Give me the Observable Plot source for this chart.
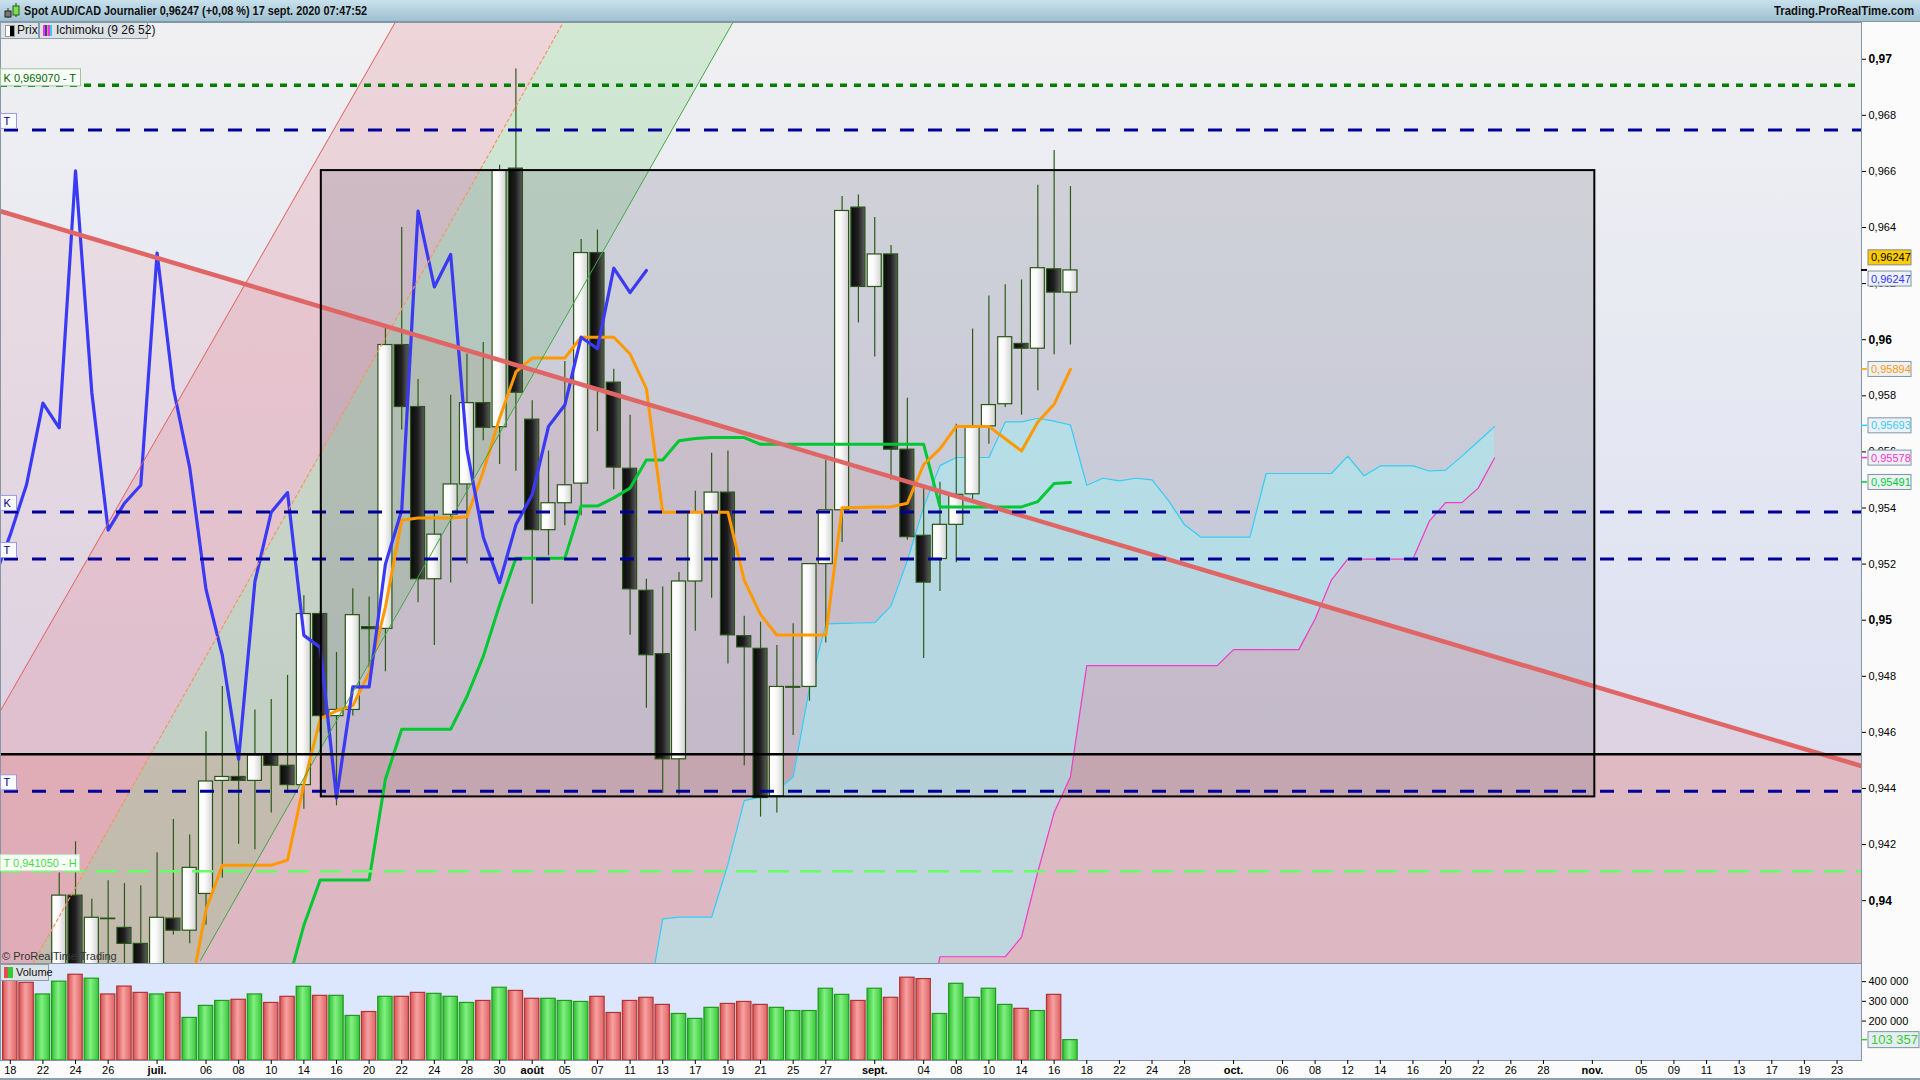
<!DOCTYPE html>
<html lang="fr">
<head>
<meta charset="utf-8">
<title>Spot AUD/CAD Journalier</title>
<script src="https://cdn.jsdelivr.net/npm/d3@7"></script>
<script src="https://cdn.jsdelivr.net/npm/@observablehq/plot@0.6"></script>
<style>
  html, body { margin: 0; padding: 0; }
  body { width: 1920px; height: 1080px; position: relative; overflow: hidden; background: #fbfbfb;
         font-family: "Liberation Sans", Arial, sans-serif; }
  #header { position: absolute; left: 0; top: 0; width: 1920px; height: 21px;
            background: linear-gradient(#c8e1ed, #a0c0d0); border-bottom: 1px solid #7d97a7; }
  #header .txt { position: absolute; top: 3px; font-weight: bold; font-size: 13px; white-space: nowrap;
                 transform-origin: left center; color: #111; }
  #icon { position: absolute; left: 2px; top: 2px; }
  #price { position: absolute; left: 0; top: 22px; }
  #volume { position: absolute; left: 0; top: 963px; }
  .leg { position: absolute; height: 15px; background: #dde2e7; border: 1px solid #8c9dab;
         font-size: 12px; line-height: 15px; white-space: nowrap; color: #111; }
  .leg span.ic { position: absolute; top: 2px; width: 9px; height: 11px; }
  #bottomline { position: absolute; left: 0; top: 1078px; width: 1920px; height: 2px; background: #8c9dab; }
</style>
</head>
<body>
<svg width="0" height="0" style="position:absolute">
  <defs>
    <linearGradient id="bgGrad" x1="0" y1="0" x2="0" y2="1">
      <stop offset="0" stop-color="#f0f0f2"/><stop offset="1" stop-color="#d6dcf2"/>
    </linearGradient>
    <linearGradient id="candleW" x1="0" y1="0" x2="1" y2="0">
      <stop offset="0" stop-color="#ffffff"/><stop offset="0.45" stop-color="#fbfbfb"/><stop offset="1" stop-color="#d2d2d2"/>
    </linearGradient>
    <linearGradient id="candleB" x1="0" y1="0" x2="1" y2="0">
      <stop offset="0" stop-color="#0a0a0a"/><stop offset="0.5" stop-color="#1e1e1e"/><stop offset="1" stop-color="#5c5c5c"/>
    </linearGradient>
    <linearGradient id="volR" x1="0" y1="0" x2="1" y2="0">
      <stop offset="0" stop-color="#d65050"/><stop offset="0.45" stop-color="#f7a2a2"/><stop offset="1" stop-color="#de6262"/>
    </linearGradient>
    <linearGradient id="volG" x1="0" y1="0" x2="1" y2="0">
      <stop offset="0" stop-color="#30bc30"/><stop offset="0.45" stop-color="#82f082"/><stop offset="1" stop-color="#3ac63a"/>
    </linearGradient>
  </defs>
</svg>

<div id="header">
  <svg id="icon" width="20" height="17">
    <line x1="6" y1="6" x2="6" y2="16" stroke="#333"/>
    <rect x="3" y="9" width="6" height="6" fill="#777" stroke="#222"/>
    <line x1="14" y1="1" x2="14" y2="15" stroke="#333"/>
    <rect x="11" y="4" width="6" height="9" fill="#7ce04a" stroke="#2a5a1a"/>
  </svg>
  <span class="txt" id="title" style="left:24px">Spot AUD/CAD Journalier 0,96247 (+0,08 %) 17 sept. 2020 07:47:52</span>
  <span class="txt" id="site" style="left:1774px">Trading.ProRealTime.com</span>
</div>

<div id="price"></div>
<div id="volume"></div>

<div class="leg" style="left:0;top:22px;width:37px">
  <span class="ic" style="left:4px;background:linear-gradient(90deg,#fff 50%,#000 50%);border:1px solid #999;width:8px;height:10px"></span>
  <span style="position:absolute;left:16px">Prix</span>
</div>
<div class="leg" style="left:39px;top:22px;width:107px">
  <span class="ic" style="left:3px;background:linear-gradient(90deg,#ff33cc 0 20%,#3333ff 20% 40%,#ff9900 40% 60%,#ff33cc 60% 80%,#33ccff 80%)"></span>
  <span style="position:absolute;left:16px">Ichimoku (9 26 52)</span>
</div>
<div class="leg" style="left:0;top:964px;width:47px;font-size:11px">
  <span class="ic" style="left:3px;background:linear-gradient(90deg,#e05050 50%,#33cc33 50%)"></span>
  <span style="position:absolute;left:15px">Volume</span>
</div>
<div id="bottomline"></div>

<script>
// séances : index 0 = 18 juin 2020, 65 = 17 sept. 2020
const opens = [0.9362, 0.9355, 0.9346, 0.9362, 0.94018, 0.9368, 0.93936, 0.93903, 0.93846, 0.9370,
  0.93936, 0.93893, 0.94024, 0.94427, 0.94441, 0.94427, 0.94518, 0.94481, 0.94412, 0.95022,
  0.94658, 0.9468, 0.94975, 0.94969, 0.95981, 0.9576, 0.95146, 0.95376, 0.95484, 0.95774,
  0.95688, 0.9661, 0.95715, 0.95321, 0.95417, 0.95487, 0.96309, 0.95847, 0.9554, 0.95105,
  0.94879, 0.94504, 0.95138, 0.95385, 0.95455, 0.94943, 0.94898, 0.94372, 0.94759, 0.94762,
  0.952, 0.95392, 0.96471, 0.96188, 0.96304, 0.95608, 0.95301, 0.95218, 0.9534, 0.95449,
  0.95691, 0.9577, 0.95985, 0.95968, 0.96251, 0.96168]
const highs = [0.9372, 0.9368, 0.9370, 0.94099, 0.9421, 0.94005, 0.94071, 0.94061, 0.94053, 0.94171,
  0.94289, 0.94234, 0.94602, 0.94764, 0.94499, 0.9468, 0.94717, 0.94803, 0.95087, 0.9503,
  0.94885, 0.95112, 0.95083, 0.96041, 0.964, 0.95858, 0.9538, 0.95802, 0.95949, 0.9599,
  0.96622, 0.96965, 0.95782, 0.95603, 0.95922, 0.96357, 0.96391, 0.95895, 0.95731, 0.95146,
  0.95118, 0.9517, 0.9546, 0.95595, 0.95603, 0.95014, 0.94993, 0.9491, 0.94987, 0.952,
  0.95571, 0.96511, 0.96516, 0.96436, 0.96336, 0.95791, 0.95476, 0.95492, 0.95699, 0.96038,
  0.96156, 0.96196, 0.96213, 0.96551, 0.96675, 0.96546]
const lows = [0.9345, 0.9338, 0.9340, 0.9355, 0.9360, 0.9362, 0.9368, 0.9374, 0.9364, 0.9366,
  0.93878, 0.93846, 0.93912, 0.9408, 0.94201, 0.94182, 0.94313, 0.94382, 0.94326, 0.9460,
  0.94338, 0.94658, 0.9483, 0.94816, 0.95678, 0.95062, 0.9491, 0.95133, 0.952, 0.9564,
  0.95555, 0.95531, 0.95057, 0.9523, 0.95337, 0.95372, 0.95672, 0.95465, 0.94946, 0.94686,
  0.94382, 0.94377, 0.94961, 0.95078, 0.94844, 0.94481, 0.94298, 0.94313, 0.94589, 0.94711,
  0.94919, 0.95277, 0.9606, 0.95938, 0.955, 0.95285, 0.94863, 0.95102, 0.95205, 0.9542,
  0.95627, 0.95758, 0.95731, 0.95818, 0.95946, 0.95981]
const closes = [0.9355, 0.9346, 0.9362, 0.94018, 0.9368, 0.93939, 0.93934, 0.93846, 0.9370, 0.93939,
  0.93893, 0.94117, 0.94425, 0.94441, 0.94427, 0.94518, 0.94481, 0.94412, 0.95022, 0.94658,
  0.9468, 0.95018, 0.94968, 0.95981, 0.9576, 0.95146, 0.95305, 0.95484, 0.95774, 0.95686,
  0.96602, 0.95811, 0.95321, 0.95417, 0.95481, 0.96309, 0.95826, 0.95544, 0.9511, 0.94875,
  0.94504, 0.95138, 0.95385, 0.95455, 0.94946, 0.94903, 0.94366, 0.94762, 0.94762, 0.952,
  0.95392, 0.96459, 0.96188, 0.96304, 0.95608, 0.95296, 0.95134, 0.9534, 0.95447, 0.95691,
  0.95767, 0.96009, 0.95968, 0.96255, 0.96168, 0.96247]
const volumes = [410000, 394000, 335000, 400000, 435000, 415000, 335000, 375000, 343000, 335000,
  343000, 216000, 277000, 302000, 308000, 335000, 292000, 323000, 374000, 328000,
  328000, 226000, 246000, 323000, 323000, 343000, 338000, 323000, 292000, 302000,
  369000, 353000, 313000, 313000, 302000, 297000, 323000, 241000, 302000, 318000,
  282000, 236000, 211000, 267000, 287000, 297000, 282000, 267000, 251000, 251000,
  364000, 333000, 302000, 364000, 318000, 420000, 413000, 236000, 389000, 318000,
  364000, 282000, 262000, 251000, 333000, 103357]

// Ichimoku (9 26 52)
const tenkanStart = 11
const tenkan = [0.9366, 0.93968, 0.94126, 0.94126, 0.94126, 0.94126, 0.94145, 0.94415, 0.94648, 0.94677,
  0.94695, 0.94812, 0.95046, 0.95356, 0.95364, 0.95364, 0.95364, 0.95369, 0.9553, 0.9572,
  0.95885, 0.95935, 0.95935, 0.95935, 0.96009, 0.96009, 0.96009, 0.95949, 0.95826, 0.95385,
  0.95385, 0.95385, 0.95385, 0.95385, 0.95142, 0.9502, 0.94947, 0.94947, 0.94947, 0.94947,
  0.95401, 0.95402, 0.95404, 0.95404, 0.95417, 0.95555, 0.95611, 0.95691, 0.95691, 0.95691,
  0.95647, 0.95603, 0.95707, 0.9577, 0.95894]
const kijunStart = 17
const kijun = [0.9370, 0.93912, 0.94074, 0.94074, 0.94074, 0.94074, 0.94433, 0.94611, 0.94611, 0.94611,
  0.94611, 0.94728, 0.94871, 0.95054, 0.95221, 0.95221, 0.95221, 0.95221, 0.95407, 0.95407,
  0.95436, 0.95471, 0.95571, 0.95571, 0.9564, 0.95648, 0.95651, 0.95651, 0.95651, 0.95627,
  0.95627, 0.95627, 0.95627, 0.95627, 0.95627, 0.95627, 0.95627, 0.95627, 0.95627, 0.95627,
  0.95404, 0.95404, 0.95404, 0.95404, 0.95404, 0.95404, 0.95423, 0.95487, 0.95491]
const spanStart = 39
const spanA = [0.9360, 0.93935, 0.93941, 0.93941, 0.93941, 0.9413, 0.94357, 0.9437, 0.94393, 0.94441,
  0.94759, 0.94987, 0.94989, 0.9499, 0.94991, 0.95051, 0.95213, 0.95404, 0.95551, 0.9558,
  0.9558, 0.9558, 0.95707, 0.95707, 0.9572, 0.9571, 0.95696, 0.95481, 0.95506, 0.95497,
  0.95506, 0.955, 0.95427, 0.9534, 0.95296, 0.95296, 0.95296, 0.95296, 0.95523, 0.95523,
  0.95523, 0.95523, 0.95523, 0.95585, 0.95515, 0.9555, 0.9555, 0.9555, 0.95532, 0.95535,
  0.95585, 0.95637, 0.9569]
const spanB = [0.935, 0.935, 0.935, 0.935, 0.935, 0.935, 0.935, 0.935, 0.935, 0.935,
  0.935, 0.935, 0.935, 0.935, 0.935, 0.935, 0.935, 0.935, 0.938, 0.938,
  0.938, 0.938, 0.938, 0.9387, 0.94103, 0.94314, 0.94441, 0.94838, 0.94838, 0.94838,
  0.94838, 0.94838, 0.94838, 0.94838, 0.94838, 0.94838, 0.94895, 0.94895, 0.94895, 0.94895,
  0.94895, 0.95004, 0.95143, 0.95218, 0.95218, 0.95218, 0.95218, 0.95218, 0.95353, 0.95419,
  0.95419, 0.95471, 0.95578]

// objets dessinés (index de séance, prix)
const trendX = [-0.6, 113.5], trendY = [0.96458, 0.9448]
const chanHighX = [-0.6, 23.6], chanHighY = [0.94677, 0.97131]
const chanMidX = [-0.6, 33.9], chanMidY = [0.93572, 0.97131]
const chanLowX = [11.66, 44.3], chanLowY = [0.93787, 0.97131]
const boxX = [19.07, 97.15], boxY = [0.9437, 0.96603]
const blueLevels = [0.96748, 0.95386, 0.95218, 0.9439]
const blueTags = ["T", "K", "T", "T"]
const kLevel = 0.96907
const hLevel = 0.94105
const blackLevel = 0.94522

// axes
const xDomain = [-0.6, 113.5]
const yDomain = [0.93776, 0.97131]
const priceTicksBold = [0.94, 0.95, 0.96, 0.97]
const priceTicks = [0.942, 0.944, 0.946, 0.948, 0.952, 0.954, 0.956, 0.958, 0.962, 0.964, 0.966, 0.968]
const volTicks = [200000, 300000, 400000]
const dayTickIdx = [0, 2, 4, 6, 12, 14, 16, 18, 20, 22, 24, 26, 28, 30, 34, 36, 38, 40, 42, 44, 46, 48, 50,
  56, 58, 60, 62, 64, 66, 68, 70, 72, 78, 80, 82, 84, 86, 88, 90, 92, 94, 100, 102, 104, 106, 108, 110, 112]
const dayTickLab = ["18", "22", "24", "26", "06", "08", "10", "14", "16", "20", "22", "24", "28", "30",
  "05", "07", "11", "13", "17", "19", "21", "25", "27", "04", "08", "10", "14", "16", "18", "22", "24", "28",
  "06", "08", "12", "14", "16", "20", "22", "26", "28", "05", "09", "11", "13", "17", "19", "23"]
const monthTickIdx = [9, 32, 53, 75, 97]
const monthTickLab = ["juil.", "août", "sept.", "oct.", "nov."]

const font = "Liberation Sans, Arial, sans-serif"

const candles = opens.map((o, i) => ({i, o, h: highs[i], l: lows[i], c: closes[i]}))
const chikou = closes.slice(25).map((c, k) => ({x: k + 25 - 26, y: c}))
const tenkanPts = tenkan.map((y, k) => ({x: k + tenkanStart, y}))
const kijunPts = kijun.map((y, k) => ({x: k + kijunStart, y}))
const cloud = spanA.map((a, k) => ({x: k + spanStart, a, b: spanB[k]}))
const trend = trendX.map((x, k) => ({x, y: trendY[k]}))
const pinkBand = [0, 1].map(k => ({x1: chanMidX[k], y1: chanMidY[k], x2: chanHighX[k], y2: chanHighY[k]}))
const greenBand = [0, 1].map(k => ({x1: chanMidX[k], y1: chanMidY[k], x2: chanLowX[k], y2: chanLowY[k]}))
const lineOf = (xs, ys) => xs.map((x, k) => ({x, y: ys[k]}))

const priceChart = Plot.plot({
  width: 1920, height: 941,
  marginLeft: 0, marginRight: 59, marginTop: 0, marginBottom: 0,
  x: {domain: xDomain, axis: null},
  y: {domain: yDomain, axis: null},
  style: {background: "transparent", fontFamily: font, fontSize: "11px", color: "#000", overflow: "visible"},
  marks: [
    Plot.frame({fill: "url(#bgGrad)", stroke: null}),
    Plot.areaY(trend, {x: "x", y1: yDomain[0], y2: "y", fill: "#e69aa4", fillOpacity: 0.2, clip: true}),
    Plot.rect([blackLevel], {x1: xDomain[0], x2: xDomain[1], y1: yDomain[0], y2: d => d, fill: "#e19696", fillOpacity: 0.4, clip: true}),
    Plot.area(pinkBand, {x1: "x1", y1: "y1", x2: "x2", y2: "y2", fill: "#e68c96", fillOpacity: 0.27, clip: true}),
    Plot.area(greenBand, {x1: "x1", y1: "y1", x2: "x2", y2: "y2", fill: "#5ac85a", fillOpacity: 0.2, clip: true}),
    Plot.rect([0], {x1: boxX[0], x2: boxX[1], y1: boxY[0], y2: boxY[1], fill: "#3c3c50", fillOpacity: 0.16}),
    Plot.areaY(cloud, {x: "x", y1: "b", y2: "a", fill: "#aaeaf0", fillOpacity: 0.6, clip: true}),
    Plot.line(cloud, {x: "x", y: "a", stroke: "#33ccf5", strokeWidth: 1.2, clip: true}),
    Plot.line(cloud, {x: "x", y: "b", stroke: "#f03cc8", strokeWidth: 1.2, clip: true}),
    Plot.ruleX(candles, {x: "i", y1: "l", y2: "h", stroke: "#2d5a17", strokeWidth: 1.2, clip: true}),
    Plot.rect(candles.filter(d => d.c >= d.o), {x1: d => d.i - 0.43, x2: d => d.i + 0.43, y1: "o", y2: "c",
      fill: "url(#candleW)", stroke: "#2a5418", strokeWidth: 1.2, clip: true}),
    Plot.rect(candles.filter(d => d.c < d.o), {x1: d => d.i - 0.43, x2: d => d.i + 0.43, y1: "o", y2: "c",
      fill: "url(#candleB)", stroke: "#2a5418", strokeWidth: 1.2, clip: true}),
    Plot.line(kijunPts, {x: "x", y: "y", stroke: "#00c832", strokeWidth: 3, clip: true}),
    Plot.line(tenkanPts, {x: "x", y: "y", stroke: "#ff9900", strokeWidth: 3, clip: true}),
    Plot.line(chikou, {x: "x", y: "y", stroke: "#3a3af5", strokeWidth: 3.2, clip: true}),
    Plot.line(lineOf(chanHighX, chanHighY), {x: "x", y: "y", stroke: "#e06464", strokeWidth: 1, clip: true}),
    Plot.line(lineOf(chanMidX, chanMidY), {x: "x", y: "y", stroke: "#ff9060", strokeWidth: 1.2, strokeDasharray: "3,3", clip: true}),
    Plot.line(lineOf(chanLowX, chanLowY), {x: "x", y: "y", stroke: "#3aa83a", strokeWidth: 1, clip: true}),
    Plot.line(trend, {x: "x", y: "y", stroke: "#e06666", strokeWidth: 4.5, clip: true}),
    Plot.ruleY([hLevel], {stroke: "#66ff66", strokeWidth: 2.5, strokeDasharray: "21,11"}),
    Plot.ruleY(blueLevels, {stroke: "#000099", strokeWidth: 3, strokeDasharray: "14,14", strokeDashoffset: -4}),
    Plot.ruleY([kLevel], {stroke: "#008000", strokeWidth: 3.5, strokeDasharray: "7,7"}),
    Plot.ruleY([blackLevel], {stroke: "#000", strokeWidth: 2.5}),
    Plot.rect([0], {x1: boxX[0], x2: boxX[1], y1: boxY[0], y2: boxY[1], fill: "none", stroke: "#000", strokeWidth: 2}),
    Plot.frame({stroke: "#8496a4"}),
    Plot.axisY({ticks: priceTicks, anchor: "right", tickSize: 4, tickPadding: 3, label: null,
      tickFormat: v => v.toFixed(3).replace(".", ","), fontSize: 11}),
    Plot.axisY({ticks: priceTicksBold, anchor: "right", tickSize: 4, tickPadding: 3, label: null,
      tickFormat: v => v.toFixed(2).replace(".", ","), fontSize: 12, fontWeight: "bold"})
  ]
})
d3.select("#price").append(() => priceChart)

const volRows = volumes.map((v, i) => ({i, v, up: closes[i] >= opens[i]}))
const dayLabel = new Map(dayTickIdx.map((d, k) => [d, dayTickLab[k]]))
const monthLabel = new Map(monthTickIdx.map((d, k) => [d, monthTickLab[k]]))

const volChart = Plot.plot({
  width: 1920, height: 115,
  marginLeft: 0, marginRight: 59, marginTop: 0, marginBottom: 18,
  x: {domain: xDomain, axis: null},
  y: {domain: [0, 492000], axis: null},
  style: {background: "transparent", fontFamily: font, fontSize: "11px", color: "#000", overflow: "visible"},
  marks: [
    Plot.frame({fill: "#dce6fc", stroke: null}),
    Plot.rect(volRows.filter(d => d.up), {x1: d => d.i - 0.44, x2: d => d.i + 0.44, y1: d => 0, y2: "v",
      fill: "url(#volG)", stroke: "#1f9a1f", strokeWidth: 1.2, clip: true}),
    Plot.rect(volRows.filter(d => !d.up), {x1: d => d.i - 0.44, x2: d => d.i + 0.44, y1: d => 0, y2: "v",
      fill: "url(#volR)", stroke: "#b03434", strokeWidth: 1.2, clip: true}),
    Plot.frame({stroke: "#8496a4"}),
    Plot.axisY({ticks: volTicks, anchor: "right", tickSize: 4, tickPadding: 3, label: null,
      tickFormat: v => d3.format(",")(v).replace(/,/g, " "), fontSize: 11}),
    Plot.axisX({ticks: dayTickIdx, anchor: "bottom", tickSize: 4, tickPadding: 2, label: null,
      tickFormat: d => dayLabel.get(d), fontSize: 11}),
    Plot.axisX({ticks: monthTickIdx, anchor: "bottom", tickSize: 4, tickPadding: 2, label: null,
      tickFormat: d => monthLabel.get(d), fontSize: 11, fontWeight: "bold"})
  ]
})
d3.select("#volume").append(() => volChart)

// étiquettes (positions tirées des échelles de Plot)
const NS = "http://www.w3.org/2000/svg"
function el(tag, attrs, text) {
  const e = document.createElementNS(NS, tag)
  for (const k in attrs) e.setAttribute(k, attrs[k])
  if (text != null) e.textContent = text
  return e
}
function tag(svg, x, y, w, h, text, o) {
  const g = el("g", {"font-family": font, "font-size": o.size || 11, "font-weight": o.weight || "normal", "text-anchor": "start"})
  g.appendChild(el("rect", {x, y, width: w, height: h, fill: o.bg || "#f7f9fb", stroke: o.border || "#7f95a5"}))
  g.appendChild(el("text", {x: x + 3, y: y + h - 3.5, fill: o.color || "#000", "text-anchor": "start"}, text))
  svg.appendChild(g)
}

const yP = v => priceChart.scale("y").apply(v)
const xRight = priceChart.scale("x").apply(xDomain[1])

tag(priceChart, 0.5, yP(kLevel) - 16, 80, 17, "K 0,969070 - T", {color: "#006600", border: "#9cc89c", bg: "#fafdfa"})
blueLevels.forEach((v, k) => tag(priceChart, 0.5, yP(v) - 16, 16, 15, blueTags[k], {color: "#000080", border: "#9a9ae0", bg: "#fbfbff"}))
tag(priceChart, 0.5, yP(hLevel) - 16, 79, 16, "T 0,941050 - H", {color: "#44dd44", border: "#c0ecc0", bg: "#fbfffb"})

const valueTags = [
  {v: 0.96247, dy: -12.6, text: "0,96247", color: "#000", bg: "#ffcc00", border: "#888"},
  {v: 0.96247, dy: 8.6, text: "0,96247", color: "#3333ff", tick: "#000"},
  {v: 0.95894, dy: 0, text: "0,95894", color: "#ff9900"},
  {v: 0.95693, dy: 0, text: "0,95693", color: "#33ccff"},
  {v: 0.95578, dy: 0, text: "0,95578", color: "#ff33cc"},
  {v: 0.95491, dy: 0, text: "0,95491", color: "#00cc33"}
]
valueTags.forEach(t => {
  const y = yP(t.v)
  priceChart.appendChild(el("line", {x1: xRight, x2: xRight + 6, y1: y, y2: y, stroke: t.tick || t.color, "stroke-width": 1.5}))
  tag(priceChart, xRight + 7, y + t.dy - 7.5, 43, 15, t.text, {color: t.color, bg: t.bg || "#eef2f8", border: t.border})
})
priceChart.appendChild(el("text", {x: 2, y: yP(yDomain[0]) - 3, "font-family": font, "font-size": 11, fill: "#333", "text-anchor": "start"}, "© ProRealTime Trading"))

const yV = v => volChart.scale("y").apply(v)
volChart.appendChild(el("line", {x1: xRight, x2: xRight + 6, y1: yV(103357), y2: yV(103357), stroke: "#33cc33", "stroke-width": 1.5}))
tag(volChart, xRight + 7, yV(103357) - 8, 51, 16, "103 357", {color: "#33cc33", bg: "#e6eef4", border: "#7f95a5", size: 13})

// largeur du texte de l'en-tête comme sur l'original
function fit(id, w) {
  const e = document.getElementById(id)
  e.style.transform = `scaleX(${w / e.getBoundingClientRect().width})`
}
fit("title", 343)
fit("site", 140)
</script>
</body>
